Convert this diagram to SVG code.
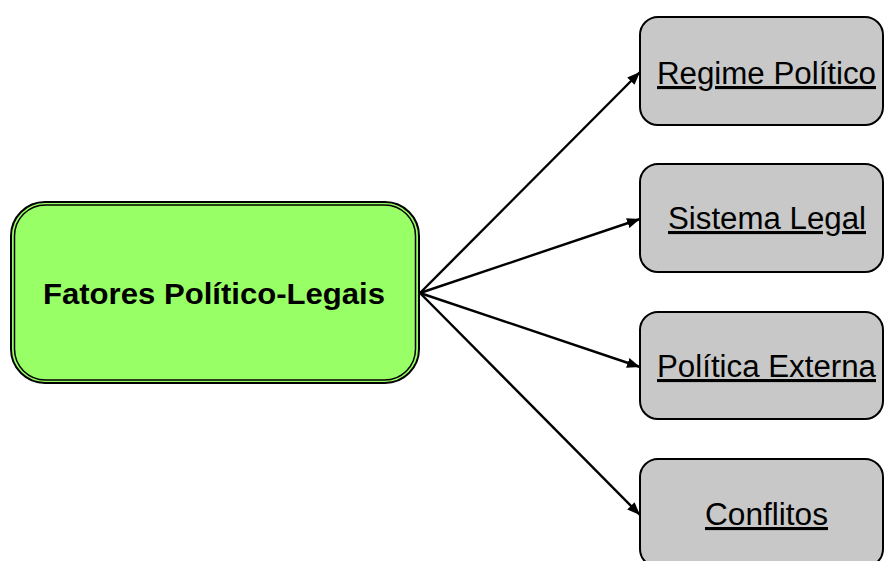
<svg xmlns="http://www.w3.org/2000/svg" width="885" height="561" viewBox="0 0 885 561">
  <style>
    .leaf { fill: #c8c8c8; stroke: #000; stroke-width: 2; }
    .leaf-text { font-family: "Liberation Sans", Arial, sans-serif; font-size: 31px; text-decoration: underline; fill: #000; text-anchor: middle; }
    .root-text { font-family: "Liberation Sans", Arial, sans-serif; font-size: 29px; font-weight: bold; fill: #000; text-anchor: middle; }
    .link { stroke: #000; stroke-width: 2.4; fill: none; marker-end: url(#arrow); }
  </style>
  <defs>
    <marker id="arrow" viewBox="0 0 10 10" refX="10" refY="5" markerWidth="5.4" markerHeight="5.4" orient="auto" markerUnits="strokeWidth">
      <path d="M0,1 L10,5 L0,9 z" fill="#000"/>
    </marker>
  </defs>

  <rect width="885" height="561" fill="#fff"/>

  <g id="connectors">
    <line class="link" x1="420" y1="293" x2="640" y2="72"/>
    <line class="link" x1="420" y1="293" x2="640" y2="219"/>
    <line class="link" x1="420" y1="293" x2="640" y2="367"/>
    <line class="link" x1="420" y1="293" x2="640" y2="515"/>
  </g>

  <g id="fatores-politico-legais">
    <rect x="11" y="202" width="408" height="181" rx="34" fill="#99ff66" stroke="#000" stroke-width="2"/>
    <rect x="14.5" y="205" width="401" height="175" rx="31" fill="none" stroke="#000" stroke-width="1.5"/>
    <text class="root-text" x="214" y="304" textLength="342" lengthAdjust="spacingAndGlyphs">Fatores Político-Legais</text>
  </g>

  <g id="regime-politico">
    <rect class="leaf" x="640" y="17" width="243" height="108" rx="18"/>
    <text class="leaf-text" x="766.5" y="84" textLength="219" lengthAdjust="spacingAndGlyphs">Regime Político</text>
  </g>

  <g id="sistema-legal">
    <rect class="leaf" x="640" y="164" width="243" height="108" rx="18"/>
    <text class="leaf-text" x="767" y="229" textLength="198" lengthAdjust="spacingAndGlyphs">Sistema Legal</text>
  </g>

  <g id="politica-externa">
    <rect class="leaf" x="640" y="312" width="243" height="107" rx="18"/>
    <text class="leaf-text" x="766.5" y="377" textLength="219" lengthAdjust="spacingAndGlyphs">Política Externa</text>
  </g>

  <g id="conflitos">
    <rect class="leaf" x="640" y="459" width="243" height="108" rx="18"/>
    <text class="leaf-text" x="766.5" y="525" textLength="123" lengthAdjust="spacingAndGlyphs">Conflitos</text>
  </g>
</svg>
